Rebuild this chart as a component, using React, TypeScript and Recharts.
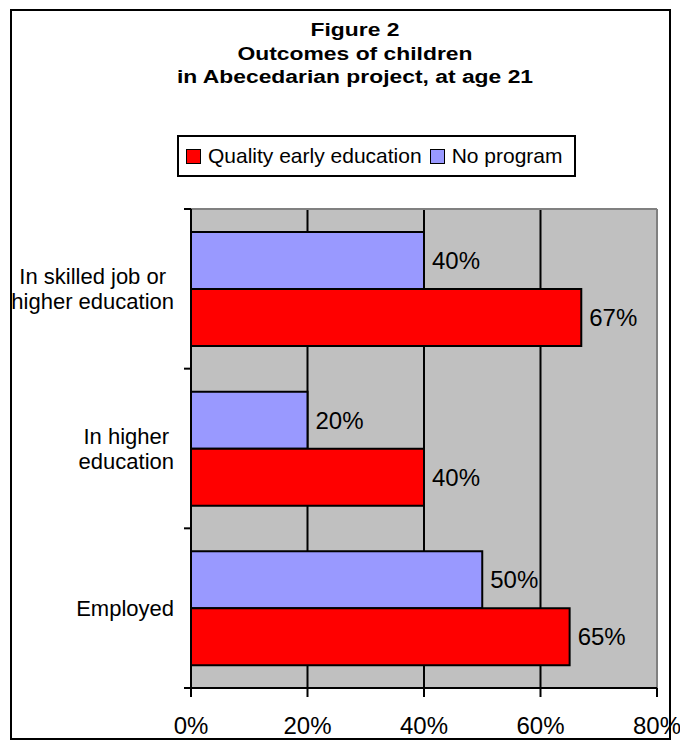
import { Bar, BarChart, CartesianGrid, LabelList, Legend, XAxis, YAxis } from 'recharts';

const categories = ['In skilled job or higher education', 'In higher education', 'Employed'];
const categoryLines = [['In skilled job or', 'higher education'], ['In higher', 'education'], ['Employed']];
const qualityValues = [67, 40, 65];
const noProgramValues = [40, 20, 50];
const xTicks = [0, 20, 40, 60, 80];
const titleLines = ['Figure 2', 'Outcomes of children', 'in Abecedarian project, at age 21'];
const seriesNames = { quality: 'Quality early education', none: 'No program' };

const FONT = '"Liberation Sans", Arial, sans-serif';
const RED = '#FF0000';
const BLUE = '#9999FF';
const AXIS_X = 191;

const data = categories.map((name, i) => ({
  name,
  lines: categoryLines[i],
  quality: qualityValues[i],
  none: noProgramValues[i],
}));

// category label: lines centred in a block whose right edge sits at the tick x,
// plus the small tick marks on the band boundaries
function CategoryTick(props: any) {
  const { x, y, payload, index } = props;
  const half = payload?.offset ?? 80;
  const lines: string[] = data[index]?.lines ?? [payload.value];
  return (
    <g>
      <line x1={AXIS_X - 7} x2={AXIS_X} y1={y - half} y2={y - half} stroke="#000" strokeWidth={2} />
      {index === data.length - 1 && (
        <line x1={AXIS_X - 7} x2={AXIS_X} y1={y + half} y2={y + half} stroke="#000" strokeWidth={2} />
      )}
      <foreignObject x={x - 185} y={y - 45} width={185} height={90}>
        <div
          style={{
            height: '100%',
            display: 'flex',
            justifyContent: 'flex-end',
            alignItems: 'center',
            fontFamily: FONT,
            fontSize: 22,
            lineHeight: '25px',
            color: '#000',
          }}
        >
          <div style={{ textAlign: 'center', whiteSpace: 'nowrap' }}>
            {lines.map((l) => (
              <div key={l}>{l}</div>
            ))}
          </div>
        </div>
      </foreignObject>
    </g>
  );
}

function LegendBox() {
  const items = [
    { label: seriesNames.quality, color: RED },
    { label: seriesNames.none, color: BLUE },
  ];
  return (
    <div
      style={{
        boxSizing: 'border-box',
        height: 42,
        border: '2px solid #000',
        background: '#fff',
        display: 'flex',
        alignItems: 'center',
        paddingLeft: 7,
        fontFamily: FONT,
        fontSize: 21,
        color: '#000',
        whiteSpace: 'nowrap',
      }}
    >
      {items.map((it) => (
        <span key={it.label} style={{ display: 'flex', alignItems: 'center', marginRight: 8 }}>
          <span
            style={{
              display: 'inline-block',
              boxSizing: 'border-box',
              width: 15,
              height: 15,
              background: it.color,
              border: '1.5px solid #000',
              marginRight: 7,
            }}
          />
          {it.label}
        </span>
      ))}
    </div>
  );
}

export default function App() {
  return (
    <div style={{ position: 'absolute', left: 0, top: 0, width: 680, height: 748, background: '#fff' }}>
      <div
        style={{
          position: 'absolute',
          left: 10,
          top: 9,
          width: 661,
          height: 731,
          boxSizing: 'border-box',
          border: '2px solid #000',
        }}
      />
      <div
        style={{
          position: 'absolute',
          left: 355 - 300,
          top: 19,
          width: 600,
          textAlign: 'center',
          fontFamily: FONT,
          fontWeight: 'bold',
          fontSize: 18,
          lineHeight: '23.5px',
          color: '#000',
          transform: 'scaleX(1.27)',
          zIndex: 2,
        }}
      >
        {titleLines.map((t) => (
          <div key={t}>{t}</div>
        ))}
      </div>
      <BarChart
        width={680}
        height={748}
        data={data}
        layout="vertical"
        margin={{ top: 209, right: 23, bottom: 10, left: 0 }}
        barCategoryGap={23}
        barGap={0}
      >
        <CartesianGrid fill="#C0C0C0" horizontal={false} stroke="#000" strokeWidth={2} />
        <CartesianGrid horizontalPoints={[209]} verticalPoints={[657]} stroke="#808080" strokeWidth={2} />
        <XAxis
          type="number"
          domain={[0, 80]}
          ticks={xTicks}
          height={50}
          tickFormatter={(v) => `${v}%`}
          tick={{ fill: '#000', fontSize: 24, fontFamily: FONT }}
          tickSize={9}
          tickMargin={20}
          axisLine={{ stroke: '#000', strokeWidth: 2 }}
          tickLine={{ stroke: '#000', strokeWidth: 2 }}
          interval={0}
        />
        <YAxis
          type="category"
          dataKey="name"
          width={AXIS_X}
          tick={<CategoryTick />}
          tickLine={false}
          tickSize={7}
          tickMargin={10}
          axisLine={{ stroke: '#000', strokeWidth: 2 }}
          interval={0}
        />
        <Legend
          layout="horizontal"
          verticalAlign="middle"
          align="center"
          wrapperStyle={{ position: 'absolute', top: 135, left: 177, width: 399, height: 42 }}
          content={() => <LegendBox />}
        />
        <Bar dataKey="none" name={seriesNames.none} fill={BLUE} stroke="#000" strokeWidth={2} isAnimationActive={false}>
          <LabelList
            dataKey="none"
            position="right"
            offset={8}
            formatter={(v: any) => `${v}%`}
            style={{ fill: '#000', fontSize: 24, fontFamily: FONT }}
          />
        </Bar>
        <Bar dataKey="quality" name={seriesNames.quality} fill={RED} stroke="#000" strokeWidth={2} isAnimationActive={false}>
          <LabelList
            dataKey="quality"
            position="right"
            offset={8}
            formatter={(v: any) => `${v}%`}
            style={{ fill: '#000', fontSize: 24, fontFamily: FONT }}
          />
        </Bar>
      </BarChart>
    </div>
  );
}
